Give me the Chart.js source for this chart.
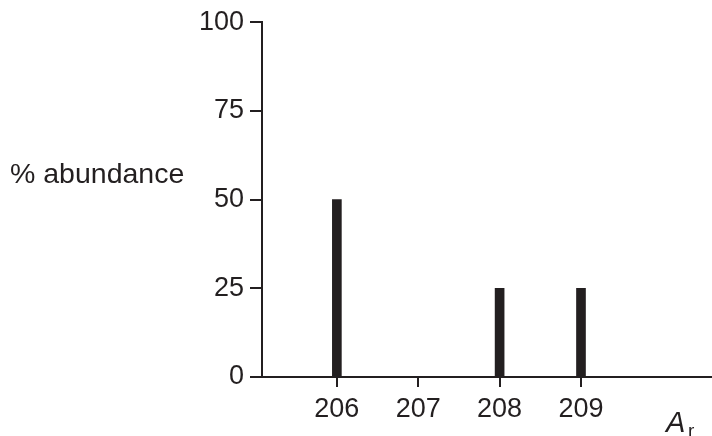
<!DOCTYPE html>
<html lang="en">
<head>
  <meta charset="UTF-8">
  <title>% abundance</title>
  <script src="https://cdn.jsdelivr.net/npm/chart.js"></script>
  <style>
    html, body { margin: 0; background: #fff; }
    #wrap { width: 712px; height: 436px; position: relative; }
  </style>
</head>
<body>
  <div id="wrap"><canvas id="chart"></canvas></div>
  <script>
    const masses = [206, 207, 208, 209];
    const abundance = [50, 0, 25, 25];
    const yTicks = [0, 25, 50, 75, 100];

    const ink = '#231f20';
    const font = { family: 'Liberation Sans, Arial, sans-serif', size: 27 };

    // axis titles drawn as text on the canvas
    const titles = {
      id: 'titles',
      afterDraw(chart) {
        const c = chart.ctx;
        c.save();
        c.fillStyle = ink;
        c.textBaseline = 'alphabetic';
        c.font = '28.5px Liberation Sans, Arial, sans-serif';
        c.fillText('% abundance', 10, 183);
        c.font = 'italic 29px Liberation Sans, Arial, sans-serif';
        c.fillText('A', 666, 432);
        c.font = '19px Liberation Sans, Arial, sans-serif';
        c.fillText('r', 688, 437);
        c.restore();
      }
    };

    new Chart(document.getElementById('chart'), {
      type: 'bar',
      data: {
        datasets: [{
          data: masses.map((m, i) => ({ x: m, y: abundance[i] })),
          backgroundColor: ink,
          barThickness: 9
        }]
      },
      plugins: [titles],
      options: {
        responsive: true,
        maintainAspectRatio: false,
        animation: false,
        layout: { padding: { top: 22, right: 0, left: 0, bottom: 0 } },
        plugins: { legend: { display: false }, tooltip: { enabled: false } },
        scales: {
          x: {
            type: 'linear',
            offset: false,
            min: 205.08,
            max: 210.61,
            afterBuildTicks: s => { s.ticks = masses.map(v => ({ value: v })); },
            afterFit: s => { s.height = 59; },
            grid: { offset: false, drawOnChartArea: false, drawTicks: true, tickLength: 10, color: ink, lineWidth: 2 },
            border: { display: true, color: ink, width: 2 },
            ticks: { color: ink, font, padding: 6, maxRotation: 0 }
          },
          y: {
            min: 0,
            max: 100,
            afterBuildTicks: s => { s.ticks = yTicks.map(v => ({ value: v })); },
            afterFit: s => { s.width = 262; },
            grid: { drawOnChartArea: false, drawTicks: true, tickLength: 12, color: ink, lineWidth: 2 },
            border: { display: true, color: ink, width: 2 },
            ticks: { color: ink, font, padding: 6 }
          }
        }
      }
    });
  </script>
</body>
</html>
